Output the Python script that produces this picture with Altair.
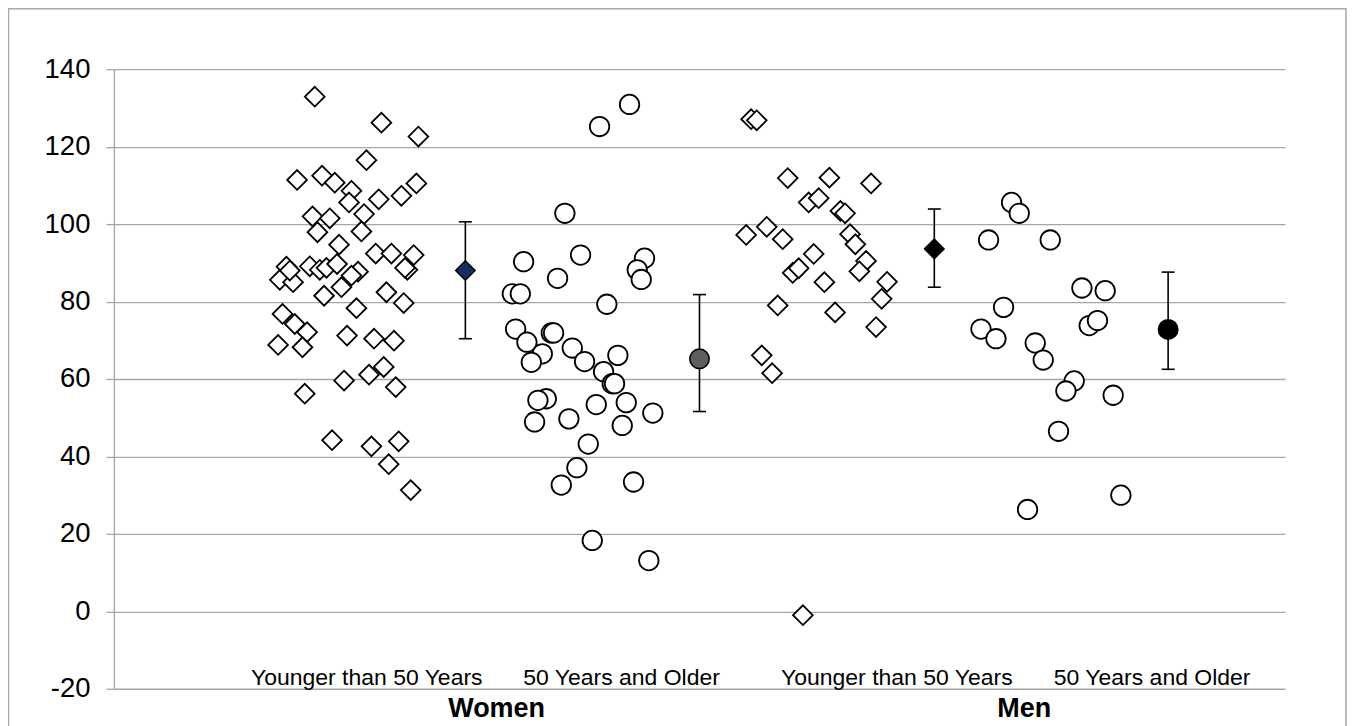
import altair as alt
import pandas as pd

# ---- data ----
# horizontal position is a jitter axis (no scale shown); y is the measured value
wy_x = [315, 381.7, 418.7, 366.7, 297.3, 322.3, 335, 351.7, 349.3, 379, 401.7, 416.7,
        312.7, 330, 364.3, 317.7, 361.7, 339.3, 376, 391.7, 414, 407.7, 405.3, 286.7,
        280, 293.3, 290, 310, 320, 326.7, 337.3, 358.3, 351.7, 341.7, 324.3, 386.7,
        404, 356.7, 282.7, 295, 307.3, 347.3, 374.3, 394.3, 278.3, 302.7, 384, 369.3,
        344.3, 396, 305, 332.3, 371.7, 399, 389, 411]
wy_y = [132.9, 126.2, 122.6, 116.5, 111.4, 112.5, 110.7, 108.6, 105.6, 106.4, 107.3, 110.5,
        102, 101.5, 102.6, 97.9, 98.1, 94.7, 92.4, 92.4, 92, 88.2, 88.7, 89,
        85.6, 85, 88, 89.1, 88.2, 88.7, 89.7, 87.7, 86.7, 83.7, 81.5, 82.4,
        79.6, 78.3, 76.8, 74.2, 72.1, 71.2, 70.4, 69.9, 68.8, 68.2, 63.1, 61.1,
        59.6, 57.9, 56.2, 44.2, 42.6, 43.9, 38, 31.3]

wo_x = [630, 600, 565.3, 524, 581, 558, 645, 637.7, 641.7, 512.7, 520.7, 607.3, 516,
        527.3, 551.7, 554, 542.7, 531.7, 572.7, 585, 618.3, 604, 612.7, 615, 546.7,
        538.3, 596.7, 626.7, 653.3, 535, 569.3, 622.7, 588.7, 577.3, 561.7, 634,
        592.7, 649.3]
wo_y = [130.9, 125.2, 102.8, 90.3, 92, 86, 91.2, 88.2, 85.7, 82, 82, 79.3, 72.9,
        69.5, 71.9, 71.9, 66.5, 64.3, 68, 64.5, 66.1, 61.9, 58.8, 58.8, 54.9,
        54.5, 53.4, 53.9, 51.2, 48.9, 49.7, 48, 43.2, 37.1, 32.6, 33.4,
        18.3, 13.1]

my_x = [751.7, 757.3, 788.3, 830, 871.7, 809.3, 819.3, 841, 845.7, 767.3, 746.7, 783.3,
        850.7, 856, 814.3, 866.7, 793.3, 799.3, 860, 825, 887.7, 882.3, 778.3, 835.7,
        876.7, 762.3, 772.7, 803.5]
my_y = [127.1, 126.8, 111.9, 112, 110.5, 105.6, 106.7, 103.4, 102.8, 99.3, 97.2, 96.1,
        97.4, 94.8, 92.3, 90.5, 87.4, 88.6, 87.8, 85, 85.1, 80.7, 79, 77.2,
        73.4, 66.1, 61.5, -1]

mo_x = [1012.3, 1020, 989.3, 1051, 1082.7, 1106, 1004.3, 981.7, 996.7, 1090, 1098.3,
        1036, 1044, 1075, 1066.7, 1114, 1059.3, 1121.7, 1028.3]
mo_y = [105.6, 102.8, 95.9, 95.9, 83.5, 82.8, 78.5, 72.9, 70.4, 73.8, 75.1,
        69.3, 64.9, 59.5, 56.9, 55.8, 46.5, 30, 26.3]

# group means with error bars
mean_group = ["Women <50", "Women 50+", "Men <50", "Men 50+"]
mean_x = [465.7, 700, 935, 1169]
mean_y = [88, 65.2, 93.6, 72.8]
mean_hi = [100.6, 81.8, 103.9, 87.6]
mean_lo = [70.4, 51.6, 83.7, 62.5]
mean_shape = ["diamond", "circle", "diamond", "circle"]
mean_fill = ["#11305f", "#5e5e5e", "#000000", "#000000"]

# category labels
cat_labels = ["Younger than 50 Years", "50 Years and Older",
              "Younger than 50 Years", "50 Years and Older"]
cat_x = [367, 622, 897.5, 1153]
sex_labels = ["Women", "Men"]
sex_x = [497, 1025]

FONT = "Liberation Sans"
GRID = "#a6a6a6"

xs = alt.Scale(domain=[114, 1286])
ys = alt.Scale(domain=[-20, 140])

X = lambda: alt.X("x:Q", scale=xs, axis=None)
Y = lambda f="y": alt.Y(f"{f}:Q", scale=ys,
                         axis=alt.Axis(values=list(range(-20, 141, 20)), title=None,
                                       labelExpr="'' + datum.value",
                                       grid=True, gridColor=GRID, gridWidth=1.3,
                                       domainColor=GRID, domainWidth=1.3,
                                       tickColor=GRID, tickWidth=1.3, tickSize=8,
                                       labelFontSize=27.5, labelFont=FONT,
                                       labelColor="#000000", labelPadding=16))

dia = pd.DataFrame({"x": wy_x + my_x, "y": wy_y + my_y})
cir = pd.DataFrame({"x": wo_x + mo_x, "y": wo_y + mo_y})
means = pd.DataFrame({"g": mean_group, "x": mean_x, "y": mean_y, "hi": mean_hi,
                      "lo": mean_lo, "shape": mean_shape, "fill": mean_fill})
cats = pd.DataFrame({"x": cat_x, "label": cat_labels, "y": [-20] * 4})
sexes = pd.DataFrame({"x": sex_x, "label": sex_labels, "y": [-20] * 2})

frame = alt.Chart(pd.DataFrame({"k": [0]})).mark_rect(
    fill=None, stroke="#a8a8a8", strokeWidth=1.5
).encode(x=alt.value(-105.5), x2=alt.value(1233), y=alt.value(-60.5), y2=alt.value(700))

diamonds = alt.Chart(dia).mark_point(
    shape="diamond", size=390, filled=True, fill="white", stroke="black",
    strokeWidth=1.8, opacity=1
).encode(x=X(), y=Y())

circles = alt.Chart(cir).mark_point(
    shape="circle", size=380, filled=True, fill="white", stroke="black",
    strokeWidth=1.8, opacity=1
).encode(x=X(), y=Y())

bars = alt.Chart(means).mark_rule(color="black", strokeWidth=1.6).encode(
    x=X(), y=Y("lo"), y2="hi:Q")
cap_hi = alt.Chart(means).mark_tick(orient="horizontal", color="black", size=13,
                                    thickness=1.6, opacity=1).encode(x=X(), y=Y("hi"))
cap_lo = alt.Chart(means).mark_tick(orient="horizontal", color="black", size=13,
                                    thickness=1.6, opacity=1).encode(x=X(), y=Y("lo"))

mean_pts = alt.Chart(means).mark_point(
    size=380, filled=True, stroke="black", strokeWidth=1.5, opacity=1
).encode(
    x=X(), y=Y(),
    shape=alt.Shape("shape:N", scale=None, legend=None),
    fill=alt.Fill("fill:N", scale=None, legend=None),
)

cat_text = alt.Chart(cats).mark_text(
    font=FONT, fontSize=23, color="#000000", baseline="alphabetic", dy=-4
).encode(x=X(), y=Y(), text="label:N")

sex_text = alt.Chart(sexes).mark_text(
    font=FONT, fontSize=27, fontWeight="bold", color="#000000",
    baseline="alphabetic", dy=28
).encode(x=X(), y=Y(), text="label:N")

chart = alt.layer(
    frame, diamonds, circles, bars, cap_hi, cap_lo, mean_pts, cat_text, sex_text
).properties(
    width=1172, height=620,
    autosize=alt.AutoSizeParams(type="none"),
    padding={"left": 106, "top": 61, "right": 62, "bottom": 37},
).configure_view(stroke=None)

chart.save("out.html", embed_options={"renderer": "svg", "actions": False})
